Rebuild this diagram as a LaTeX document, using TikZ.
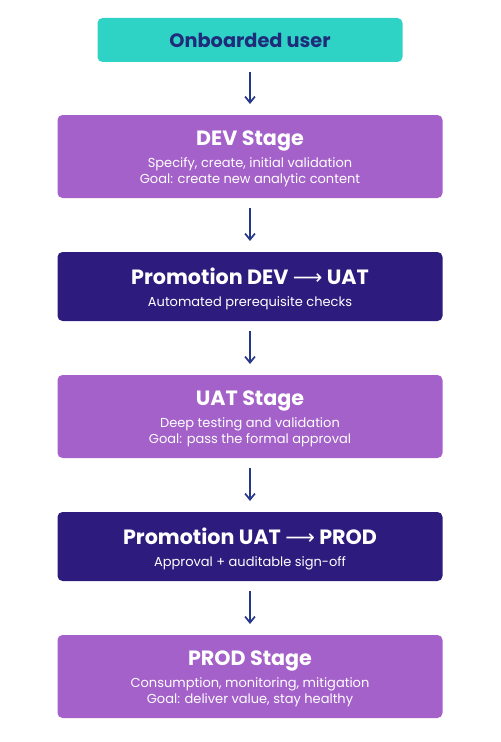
\documentclass[tikz,border=0pt]{standalone}
\usepackage{fontspec}
\setmainfont{Poppins}
\newfontfamily\arrowfont{DejaVu Sans}
\usetikzlibrary{arrows.meta, positioning}
\definecolor{start}{HTML}{2FD3C6}
\definecolor{stage}{HTML}{A461C9}
\definecolor{promo}{HTML}{2D1C7E}
\definecolor{ink}{HTML}{1F2C7A}
\definecolor{flow}{HTML}{27378A}
\newcommand\boxtitle[1]{\raisebox{0pt}[\dimexpr\height+3.5pt\relax]{\fontsize{15.5}{18}\selectfont\bfseries #1}}

\begin{document}
\begin{tikzpicture}[>={Straight Barb[length=1.6mm, width=2.6mm]}, node distance=40.5pt,
    start/.style={fill=start, rounded corners=3.75pt, outer sep=0pt, minimum width=228.75pt, minimum height=33pt, align=center, text=ink, font=\fontsize{14.5}{17}\selectfont\bfseries},
    stage/.style={fill=stage, rounded corners=3.75pt, outer sep=0pt, minimum width=288.75pt, minimum height=62.25pt, align=center, text=white, font=\fontsize{9.75}{12}\selectfont},
    promo/.style={stage, fill=promo, minimum height=51.75pt},
    flow/.style={->, draw=flow, line width=1.3pt, shorten <=7.5pt, shorten >=8.25pt}]

  \useasboundingbox (0,0) rectangle (375pt,-556.5pt);

  \node[start, anchor=north] (user) at (187.5pt,-13.5pt) {Onboarded user};
  \node[stage, below=39.75pt of user] (dev) {\boxtitle{DEV Stage}\\[5pt]Specify, create, initial validation\\Goal: create new analytic content};
  \node[promo, below=of dev] (devuat) {\boxtitle{Promotion DEV {\arrowfont\mdseries ⟶} UAT}\\[5pt]Automated prerequisite checks};
  \node[stage, below=of devuat] (uat) {\boxtitle{UAT Stage}\\[5pt]Deep testing and validation\\Goal: pass the formal approval};
  \node[promo, below=of uat] (uatprod) {\boxtitle{Promotion UAT {\arrowfont\mdseries ⟶} PROD}\\[5pt]Approval + auditable sign-off};
  \node[stage, below=of uatprod] (prod) {\boxtitle{PROD Stage}\\[5pt]Consumption, monitoring, mitigation\\Goal: deliver value, stay healthy};

  \draw[flow] (user) -- (dev);
  \draw[flow] (dev) -- (devuat);
  \draw[flow] (devuat) -- (uat);
  \draw[flow] (uat) -- (uatprod);
  \draw[flow] (uatprod) -- (prod);
\end{tikzpicture}
\end{document}
